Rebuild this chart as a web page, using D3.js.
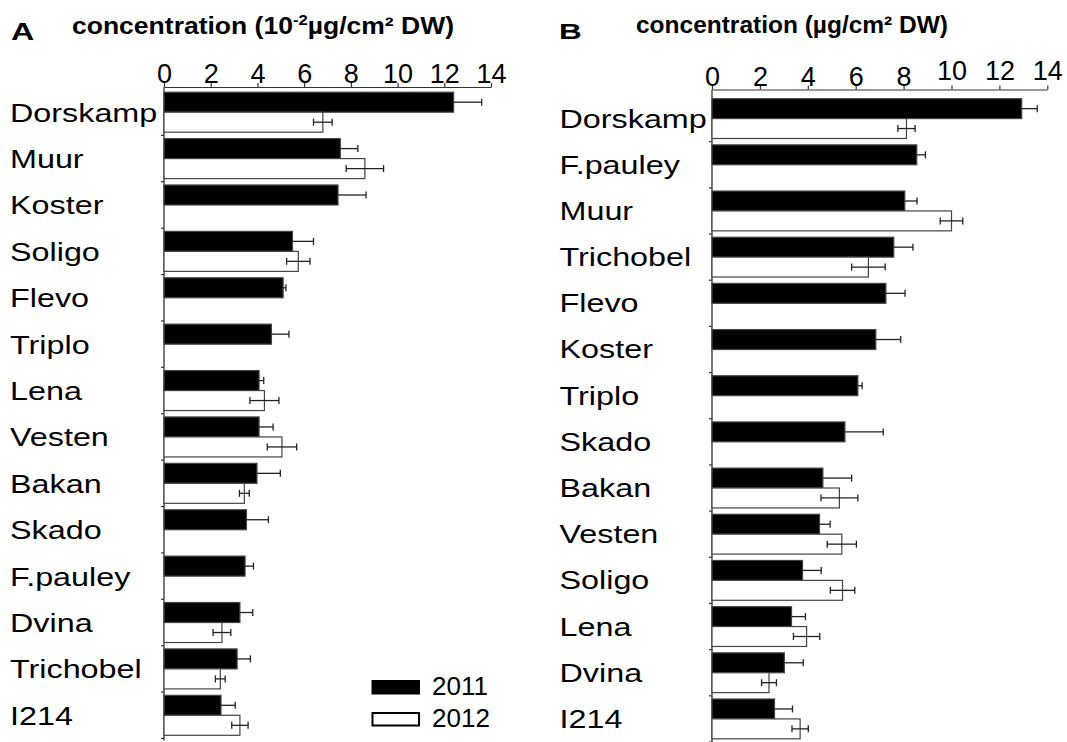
<!DOCTYPE html>
<html>
<head>
<meta charset="utf-8">
<script src="https://cdn.jsdelivr.net/npm/d3@7"></script>
<style>
  html, body { margin: 0; padding: 0; background: #fff; }
  text { font-family: "Liberation Sans", Arial, sans-serif; fill: #000; }
</style>
</head>
<body>
<svg id="chart" width="1067" height="742"></svg>
<script>
// ---------- DATA ----------
const seriesNames = ["2011", "2012"];
const tickValues = [0, 2, 4, 6, 8, 10, 12, 14];

// Panel A (10^-2 µg/cm² DW)
const categoriesA = ["Dorskamp", "Muur", "Koster", "Soligo", "Flevo", "Triplo", "Lena", "Vesten", "Bakan", "Skado", "F.pauley", "Dvina", "Trichobel", "I214"];
const values2011A = [12.4, 7.55, 7.45, 5.5, 5.1, 4.6, 4.07, 4.07, 3.98, 3.53, 3.47, 3.25, 3.13, 2.44];
const errors2011A = [1.2, 0.75, 1.2, 0.9, 0.12, 0.75, 0.2, 0.6, 1.0, 0.94, 0.36, 0.55, 0.57, 0.61];
const values2012A = [6.8, 8.6, null, 5.75, null, null, 4.3, 5.05, 3.44, null, null, 2.48, 2.41, 3.25];
const errors2012A = [0.4, 0.8, null, 0.5, null, null, 0.62, 0.63, 0.21, null, null, 0.38, 0.21, 0.35];

// Panel B (µg/cm² DW)
const categoriesB = ["Dorskamp", "F.pauley", "Muur", "Trichobel", "Flevo", "Koster", "Triplo", "Skado", "Bakan", "Vesten", "Soligo", "Lena", "Dvina", "I214"];
const values2011B = [12.93, 8.55, 8.05, 7.59, 7.26, 6.84, 6.09, 5.55, 4.63, 4.49, 3.78, 3.32, 3.02, 2.61];
const errors2011B = [0.65, 0.36, 0.51, 0.8, 0.8, 1.04, 0.18, 1.6, 1.2, 0.44, 0.78, 0.58, 0.79, 0.75];
const values2012B = [8.12, null, 10.0, 6.53, null, null, null, null, 5.32, 5.42, 5.45, 3.95, 2.38, 3.68];
const errors2012B = [0.36, null, 0.47, 0.7, null, null, null, null, 0.77, 0.61, 0.51, 0.55, 0.31, 0.34];

// ---------- DRAW ----------
const svg = d3.select("#chart");

function rowsOf(cats, v1, e1, v2, e2) {
  return cats.map((c, i) => ({
    cat: c,
    bars: [
      { s: "2011", v: v1[i], e: e1[i] },
      { s: "2012", v: v2[i], e: e2[i] }
    ].filter(b => b.v !== null)
  }));
}

function drawPanel(cfg) {
  const x = d3.scaleLinear().domain([0, 14]).range([cfg.x0, cfg.x1]);
  const y = d3.scaleBand().domain(cfg.cats).range([cfg.yTop, cfg.yBot]).paddingInner(0).paddingOuter(0);
  const sub = d3.scaleBand().domain(seriesNames).range([0, y.bandwidth()]).paddingInner(0).paddingOuter(0.16);
  const g = svg.append("g");

  // Top axis
  const ax = g.append("g")
    .attr("transform", `translate(0,${cfg.axisY})`)
    .call(d3.axisTop(x).tickValues(tickValues).tickSize(4).tickPadding(0).tickSizeOuter(0));
  ax.select(".domain").attr("stroke", "#333").attr("stroke-width", 1.2);
  ax.selectAll(".tick line").attr("stroke", "#333").attr("stroke-width", 1.2);
  ax.selectAll(".tick text")
    .attr("font-family", "Liberation Sans, Arial, sans-serif")
    .attr("font-size", 27)
    .attr("fill", "#000")
    .attr("dy", d => (cfg.staggerTicks && d >= 10) ? "-0.22em" : "0em");

  // Left axis line and band ticks
  g.append("line")
    .attr("x1", x(0)).attr("x2", x(0))
    .attr("y1", cfg.axisY).attr("y2", cfg.yBot + 2)
    .attr("stroke", "#333").attr("stroke-width", 1.3);
  g.selectAll(".ytick").data(cfg.cats).join("line")
    .attr("x1", x(0) - 3).attr("x2", x(0))
    .attr("y1", d => y(d) + y.bandwidth()).attr("y2", d => y(d) + y.bandwidth())
    .attr("stroke", "#333").attr("stroke-width", 1.2);

  const rows = rowsOf(cfg.cats, cfg.v1, cfg.e1, cfg.v2, cfg.e2);
  const rowG = g.selectAll(".row").data(rows).join("g")
    .attr("transform", d => `translate(0,${y(d.cat)})`);

  // Bars
  rowG.selectAll("rect").data(d => d.bars).join("rect")
    .attr("x", x(0))
    .attr("y", b => sub(b.s))
    .attr("width", b => x(b.v) - x(0))
    .attr("height", sub.bandwidth())
    .attr("fill", b => b.s === "2011" ? "#000" : "#fff")
    .attr("stroke", "#444")
    .attr("stroke-width", 1.2);

  // Error bars (lower half hidden inside black bars)
  const mid = b => sub(b.s) + sub.bandwidth() / 2;
  const lo = b => b.s === "2011" ? b.v : b.v - b.e;
  const eb = rowG.selectAll(".eb").data(d => d.bars).join("g").attr("class", "eb");
  eb.append("line")
    .attr("x1", b => x(lo(b))).attr("x2", b => x(b.v + b.e))
    .attr("y1", mid).attr("y2", mid)
    .attr("stroke", "#222").attr("stroke-width", 1.3);
  eb.append("line")
    .attr("x1", b => x(b.v + b.e)).attr("x2", b => x(b.v + b.e))
    .attr("y1", b => mid(b) - 3.5).attr("y2", b => mid(b) + 3.5)
    .attr("stroke", "#222").attr("stroke-width", 1.3);
  eb.filter(b => b.s === "2012").append("line")
    .attr("x1", b => x(b.v - b.e)).attr("x2", b => x(b.v - b.e))
    .attr("y1", b => mid(b) - 3.5).attr("y2", b => mid(b) + 3.5)
    .attr("stroke", "#222").attr("stroke-width", 1.3);

  // Category labels
  g.selectAll(".lab").data(cfg.cats).join("text")
    .attr("transform", d => `translate(${cfg.labelX},${y(d) + y.bandwidth() / 2 + cfg.labelDy}) scale(1.22,1)`)
    .attr("font-size", 26.5)
    .text(d => d);

  return { x, y };
}

drawPanel({
  cats: categoriesA, v1: values2011A, e1: errors2011A, v2: values2012A, e2: errors2012A,
  x0: 164, x1: 491, yTop: 89, yBot: 738.5, axisY: 87, labelX: 10, labelDy: 9.5, staggerTicks: false
});
drawPanel({
  cats: categoriesB, v1: values2011B, e1: errors2011B, v2: values2012B, e2: errors2012B,
  x0: 712, x1: 1047.3, yTop: 95.5, yBot: 742, axisY: 89.5, labelX: 559.5, labelDy: 9, staggerTicks: true
});

// Panel letters
svg.append("text").attr("transform", "translate(11,39.5) scale(1.4,1)")
  .attr("font-size", 23).attr("font-weight", "bold").text("A");
svg.append("text").attr("transform", "translate(559,39) scale(1.4,1)")
  .attr("font-size", 22.5).attr("font-weight", "bold").text("B");

// Titles
const tA = svg.append("text").attr("x", 72).attr("y", 34)
  .attr("font-size", 24).attr("font-weight", "bold")
  .attr("textLength", 382).attr("lengthAdjust", "spacingAndGlyphs");
tA.append("tspan").text("concentration (10");
tA.append("tspan").attr("font-size", 15).attr("dy", -9).text("-2");
tA.append("tspan").attr("dy", 9).text("µg/cm² DW)");

svg.append("text").attr("x", 636).attr("y", 33)
  .attr("font-size", 24).attr("font-weight", "bold")
  .attr("textLength", 312).attr("lengthAdjust", "spacingAndGlyphs")
  .text("concentration (µg/cm² DW)");

// Legend
const legend = svg.append("g");
const legY = d3.scalePoint().domain(seriesNames).range([681, 713]);
legend.selectAll("rect").data(seriesNames).join("rect")
  .attr("x", 372.5).attr("y", d => legY(d))
  .attr("width", 46.5).attr("height", 12.5)
  .attr("fill", d => d === "2011" ? "#000" : "#fff")
  .attr("stroke", "#000").attr("stroke-width", 2);
legend.selectAll("text").data(seriesNames).join("text")
  .attr("x", 432).attr("y", d => legY(d) + 14)
  .attr("font-size", 26)
  .text(d => d);
</script>
</body>
</html>
